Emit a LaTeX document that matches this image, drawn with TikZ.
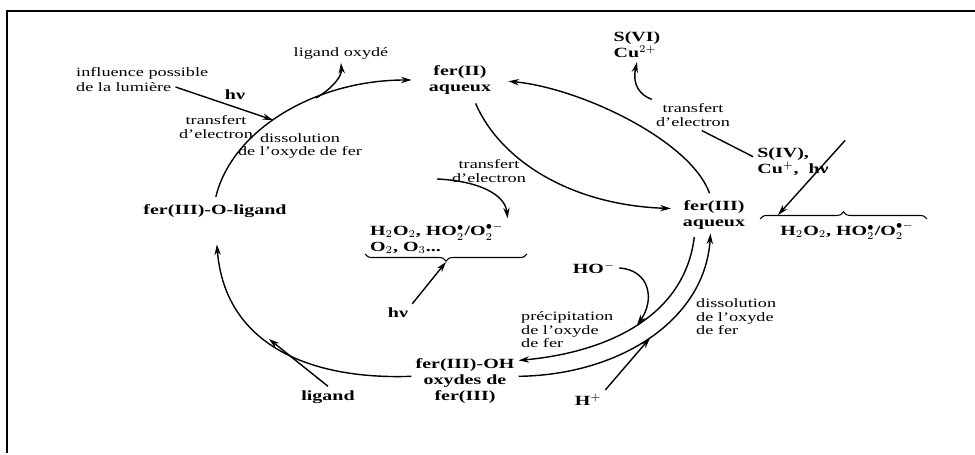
\documentclass[tikz,border=0pt]{standalone}
\usepackage{fontspec}
\setmainfont{Liberation Serif}[FakeStretch=1.42]
\usetikzlibrary{arrows.meta,decorations.pathreplacing}
\newcommand{\radicaux}{H$_2$O$_2$, HO$_2^{\bullet}$/O$_2^{\bullet -}$}

\begin{document}
\begin{tikzpicture}[x=0.02cm, y=-0.02cm, >={Stealth[length=6pt,width=3.6pt]}, line width=0.8pt]

\tikzstyle{espece}=[font=\fontsize{8}{9}\selectfont\bfseries, align=center, inner sep=2pt]
\tikzstyle{annot}=[font=\fontsize{7.3}{7.7}\selectfont, align=center, inner sep=2pt]
\tikzstyle{accolade}=[decorate, decoration={brace, amplitude=4pt}, line width=0.6pt]

\useasboundingbox (0,0) rectangle (975,455);
\draw[line width=1.3pt] (7,453) -- (7,11) -- (975,11);

% especes du fer
\node[espece] (fer2) at (460,80) {fer(II)\\aqueux};
\node[espece] (fer3) at (714,215) {fer(III)\\aqueux};
\node[espece] (ferOlig) at (215,211) {fer(III)-O-ligand};
\node[espece] (ferOH) at (465,381) {fer(III)-OH\\oxydes de\\fer(III)};

% reactifs
\node[espece] (ligand) at (328,397) {ligand};
\node[espece] (hplus) at (588,400) {H$^+$};
\node[espece] (hominus) at (594,268) {HO$^-$};
\node[espece] (hnu) at (398,313) {hν};
\node[espece] (hnuL) at (235,95) {hν};
\node[espece, align=left, anchor=west] (radC) at (366,238) {\radicaux\\O$_2$, O$_3$...};
\node[espece] (radR) at (847,231) {\radicaux};
\node[espece, align=left] (svi) at (637,45) {S(VI)\\Cu$^{2+}$};
\node[espece, align=left] (siv) at (793,162) {S(IV),\\Cu$^+$,\ \ hν};

% annotations
\node[annot] (ligox) at (341,53) {ligand oxydé};
\node[annot, anchor=west] (influ) at (72,73) {influence possible};
\node[annot, anchor=west] (lum) at (72,87) {de la lumière};
\node[annot] (trL) at (216,127) {transfert\\d'electron};
\node[annot] (dissL) at (300,146) {dissolution\\de l'oxyde de fer};
\node[annot] (trC) at (489,171) {transfert\\d'electron};
\node[annot] (trR) at (693,115) {transfert\\d'electron};
\node[annot, align=left, anchor=west] (precip) at (517,330) {précipitation\\de l'oxyde\\de fer};
\node[annot, align=left, anchor=west] (dissR) at (692,317) {dissolution\\de l'oxyde\\de fer};

\coordinate (jLox) at (316,98);
\coordinate (jHnu) at (273,120);
\coordinate (jLig) at (269,339);
\coordinate (jHO) at (637,325);
\coordinate (jH) at (650,338);
\coordinate (accG) at (446,262);
\coordinate (accD) at (778,215);
\coordinate (trS) at (437,179);

% le cycle
\draw[->, shorten <=2pt, shorten >=7.5pt] (ferOlig.north) .. controls (232,130) and (315,80) .. (fer2.west);
\draw[->, shorten <=3pt, shorten >=4.5pt] (fer2.-54) .. controls (500,160) and (570,205) .. (fer3.170);
\draw[->, shorten <=2pt, shorten >=7.5pt] (fer3.100) .. controls (690,140) and (580,88) .. (fer2.east);
\draw[->, shorten <=2pt] ([xshift=-11pt]fer3.south) .. controls (685,315) and (610,352) .. (ferOH.21);
\draw[->] (ferOH.5) .. controls (620,375) and (705,320) .. ([xshift=-2pt]fer3.south);
\draw[->, shorten >=13pt] (ferOH.175) .. controls (310,380) and (225,345) .. (ferOlig.south);

\draw[accolade] (527,254) -- (365,254);
\draw[accolade] (760,219) -- (927,219);

\draw[->] (jLox) .. controls (333,88) and (342,76) .. (ligox.south);
\draw[->] (lum.east) -- (jHnu);
\draw[->] (ligand.north) -- (jLig);
\draw[->] (hplus.north east) -- (jH);
\draw[->] (hominus.east) .. controls (650,270) and (655,300) .. (jHO);
\draw[->] (trS) .. controls (480,181) and (505,195) .. (radC.north east);
\draw[->] (hnu.north east) -- (accG);
\draw[->] ([xshift=7pt,yshift=2pt]siv.north east) -- (accD);
\draw ([yshift=3pt]siv.west) -- ([xshift=5pt]trR.south);
\draw[->] (trR.north west) .. controls (640,95) and (632,85) .. (svi.south);

\end{tikzpicture}
\end{document}
